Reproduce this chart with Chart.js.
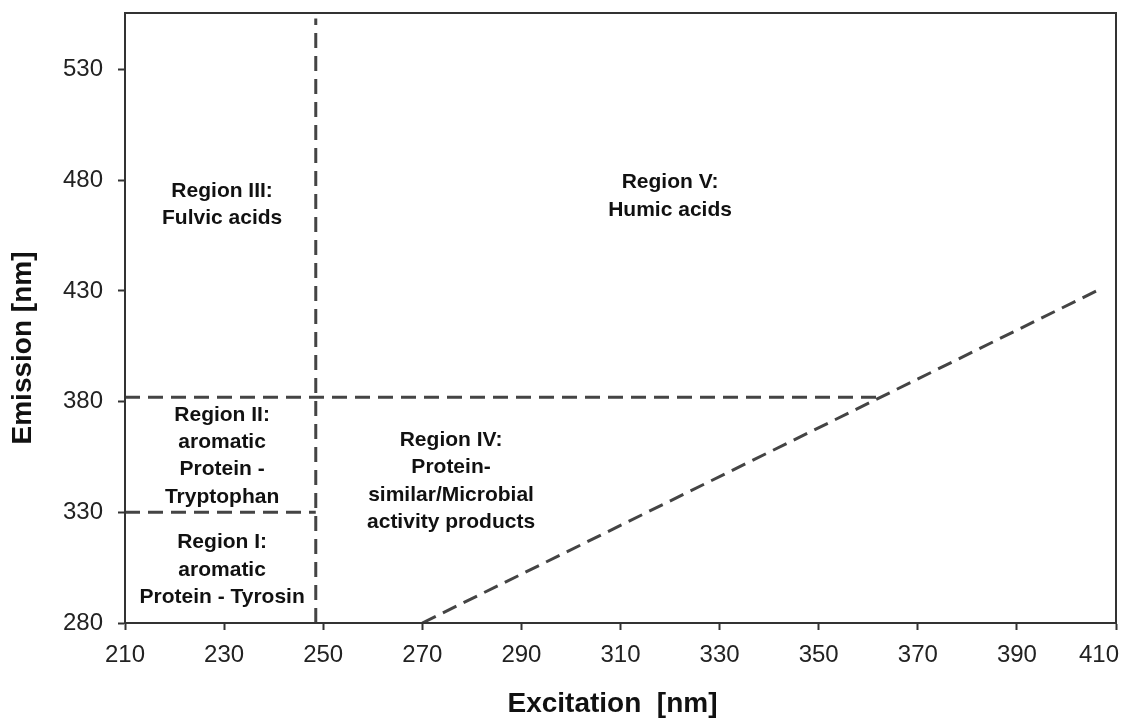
<!DOCTYPE html>
<html>
<head>
<meta charset="utf-8">
<script src="https://cdn.jsdelivr.net/npm/chart.js@4/dist/chart.umd.min.js"></script>
<style>
  html, body { margin: 0; padding: 0; background: #fff; }
  #wrap { width: 1122px; height: 720px; }
</style>
</head>
<body>
<div id="wrap"><canvas id="myChart" width="1122" height="720"></canvas></div>
<script>
// axis ticks
const xTicks = [210, 230, 250, 270, 290, 310, 330, 350, 370, 390, 410];
const yTicks = [280, 330, 380, 430, 480, 530];
const xTitle = 'Excitation  [nm]';
const yTitle = 'Emission [nm]';

// boundary lines (excitation, emission)
const boundaryVertical = [{ x: 248.5, y: 280 }, { x: 248.5, y: 553 }];
const boundary330 = [{ x: 210, y: 330 }, { x: 248.5, y: 330 }];
const boundary382 = [{ x: 210, y: 382 }, { x: 362, y: 382 }];
const boundaryDiagonal = [{ x: 270, y: 280 }, { x: 407, y: 431 }];

// region labels and where they sit (data units)
const regionText = [
    ['Region III:', 'Fulvic acids'],
    ['Region V:', 'Humic acids'],
    ['Region II:', 'aromatic', 'Protein -', 'Tryptophan'],
    ['Region I:', 'aromatic', 'Protein - Tyrosin'],
    ['Region IV:', 'Protein-', 'similar/Microbial', 'activity products']
];
const regionX = [229.6, 320, 229.6, 229.6, 275.8];
const regionY = [469, 472.7, 355.4, 304, 344];

const lineColor = '#444444';
const FONT = '"Liberation Sans", Arial, sans-serif';

function lineSet(points) {
    return {
        data: points,
        showLine: true,
        borderColor: lineColor,
        borderWidth: 3,
        borderDash: [15, 8],
        pointRadius: 0,
        fill: false
    };
}

// frame, x tick labels, axis titles, region labels
const extras = {
    id: 'extras',
    afterDraw(chart) {
        const ctx = chart.ctx;
        const a = chart.chartArea;
        const xs = chart.scales.x;
        const ys = chart.scales.y;
        ctx.save();
        ctx.strokeStyle = '#333';
        ctx.lineWidth = 2;
        ctx.strokeRect(a.left, a.top, a.right - a.left, a.bottom - a.top);

        // x tick labels (last one kept inside the canvas)
        ctx.fillStyle = '#222';
        ctx.font = '24px ' + FONT;
        ctx.textBaseline = 'middle';
        xTicks.forEach(v => {
            const px = xs.getPixelForValue(v);
            const w = ctx.measureText(String(v)).width;
            if (px + w / 2 > chart.width - 2) {
                ctx.textAlign = 'right';
                ctx.fillText(String(v), chart.width - 3, a.bottom + 32);
            } else {
                ctx.textAlign = 'center';
                ctx.fillText(String(v), px, a.bottom + 32);
            }
        });

        // axis titles
        ctx.fillStyle = '#111';
        ctx.font = 'bold 28px ' + FONT;
        ctx.textAlign = 'center';
        ctx.fillText(xTitle, (a.left + a.right) / 2 - 8, a.bottom + 81);
        ctx.save();
        ctx.translate(23, (a.top + a.bottom) / 2 + 30);
        ctx.rotate(-Math.PI / 2);
        ctx.fillText(yTitle, 0, 0);
        ctx.restore();

        ctx.font = 'bold 21px ' + FONT;
        const lh = 27.3;
        regionText.forEach((lines, i) => {
            const cx = xs.getPixelForValue(regionX[i]);
            const cy = ys.getPixelForValue(regionY[i]);
            const top = cy - (lines.length - 1) * lh / 2;
            lines.forEach((t, j) => ctx.fillText(t, cx, top + j * lh));
        });
        ctx.restore();
    }
};

const ctx = document.getElementById('myChart').getContext('2d');
const myChart = new Chart(ctx, {
    type: 'scatter',
    data: {
        datasets: [
            lineSet(boundaryVertical),
            lineSet(boundary330),
            lineSet(boundary382),
            lineSet(boundaryDiagonal)
        ]
    },
    options: {
        responsive: false,
        animation: false,
        layout: { padding: { top: 13, right: 6, left: 0, bottom: 0 } },
        plugins: { legend: { display: false }, tooltip: { enabled: false } },
        scales: {
            x: {
                type: 'linear',
                min: 210,
                max: 410,
                afterBuildTicks: s => { s.ticks = xTicks.map(v => ({ value: v })); },
                afterFit: s => { s.height = 97; s.paddingLeft = 0; s.paddingRight = 0; },
                grid: { drawOnChartArea: false, drawTicks: true, tickLength: 7, tickColor: '#333', tickWidth: 2 },
                border: { display: true, color: '#333', width: 2 },
                ticks: { display: false },
                title: { display: false }
            },
            y: {
                type: 'linear',
                min: 280,
                max: 555.5,
                afterBuildTicks: s => { s.ticks = yTicks.map(v => ({ value: v })); },
                afterFit: s => { s.width = 125; s.paddingTop = 0; s.paddingBottom = 0; },
                grid: { drawOnChartArea: false, drawTicks: true, tickLength: 7, tickColor: '#333', tickWidth: 2 },
                border: { display: true, color: '#333', width: 2 },
                ticks: {
                    color: '#222',
                    padding: 15,
                    font: { family: FONT, size: 24 }
                },
                title: { display: false }
            }
        }
    },
    plugins: [extras]
});
</script>
</body>
</html>
